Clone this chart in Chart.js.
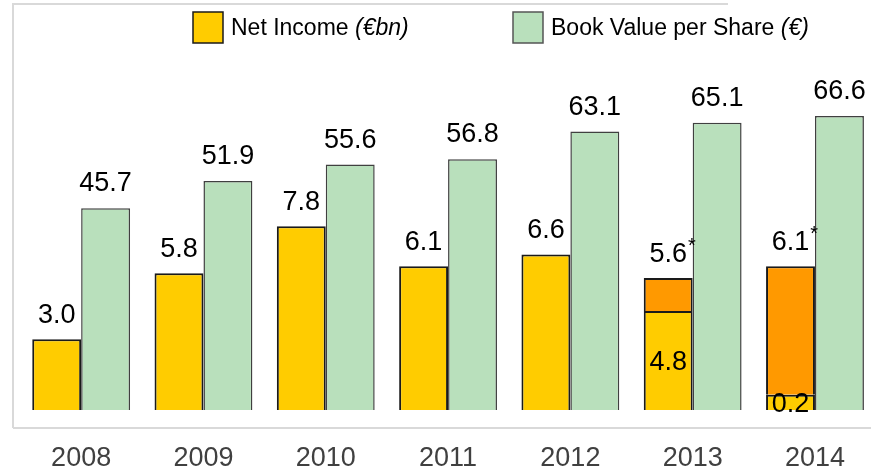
<!DOCTYPE html>
<html>
<head>
<meta charset="utf-8">
<script src="https://cdn.jsdelivr.net/npm/chart.js@4.4.1/dist/chart.umd.min.js"></script>
<style>
	html, body { margin: 0; padding: 0; background: #fff; overflow: hidden; }
	#wrap { width: 871px; height: 471px; overflow: hidden; }
</style>
</head>
<body>
<div id="wrap"><canvas id="chart" width="880" height="507"></canvas></div>
<script>
const years = ["2008", "2009", "2010", "2011", "2012", "2013", "2014"];
// bar heights as drawn (yellow part, orange part on top)
const net_income = [3.0, 5.8, 7.8, 6.1, 6.6, 4.2, 0.65];
const net_income_extra = [null, null, null, null, null, 1.4, 5.45];
const book_value = [45.7, 51.9, 55.6, 56.8, 63.1, 65.1, 66.6];
// printed labels
const net_income_labels = ["3.0", "5.8", "7.8", "6.1", "6.6", "5.6", "6.1"];
const net_income_star = [false, false, false, false, false, true, true];
const net_income_inner = [null, null, null, null, null, "4.8", "0.2"];
const book_value_labels = ["45.7", "51.9", "55.6", "56.8", "63.1", "65.1", "66.6"];

const FONT = "'Liberation Sans Narrow', 'Liberation Sans', Arial, sans-serif";

const frame_plugin = {
	id: "frame",
	beforeDraw(chart) {
		const ctx = chart.ctx;
		ctx.save();
		ctx.strokeStyle = "#d9d9d9";
		ctx.lineWidth = 2;
		ctx.beginPath();
		ctx.moveTo(13, 428);
		ctx.lineTo(13, 4);
		ctx.lineTo(728, 4);
		ctx.moveTo(13, 428);
		ctx.lineTo(880, 428);
		ctx.stroke();
		ctx.restore();
	},
};

const legend_plugin = {
	id: "customLegend",
	afterDraw(chart) {
		const ctx = chart.ctx;
		const items = [
			{ x: 193, color: "#FFCC00", border: "#1a1a1a", text: "Net Income ", italic: "(€bn)" },
			{ x: 513, color: "#B9E0BC", border: "#555555", text: "Book Value per Share ", italic: "(€)" },
		];
		ctx.save();
		ctx.textBaseline = "middle";
		ctx.textAlign = "left";
		for (const it of items) {
			ctx.fillStyle = it.color;
			ctx.fillRect(it.x, 12, 30, 31);
			ctx.strokeStyle = it.border;
			ctx.lineWidth = 1.5;
			ctx.strokeRect(it.x, 12, 30, 31);
			ctx.fillStyle = "#000";
			ctx.font = "23px " + FONT;
			ctx.fillText(it.text, it.x + 38, 29);
			const w = ctx.measureText(it.text).width;
			ctx.font = "italic 23px " + FONT;
			ctx.fillText(it.italic, it.x + 38 + w, 29);
		}
		ctx.restore();
	},
};

const value_plugin = {
	id: "values",
	afterDatasetsDraw(chart) {
		const ctx = chart.ctx;
		const yellow = chart.getDatasetMeta(0).data;
		const orange = chart.getDatasetMeta(1).data;
		const green = chart.getDatasetMeta(2).data;
		ctx.save();
		ctx.fillStyle = "#000";
		ctx.textAlign = "center";
		ctx.font = "27px " + FONT;
		for (let i = 0; i < years.length; i++) {
			// net income total above the stack
			let top = yellow[i].y;
			if (net_income_extra[i] !== null) top = orange[i].y;
			ctx.textBaseline = "alphabetic";
			ctx.fillText(net_income_labels[i], yellow[i].x, top - 16);
			if (net_income_star[i]) {
				const w = ctx.measureText(net_income_labels[i]).width;
				ctx.font = "20px " + FONT;
				ctx.textAlign = "left";
				ctx.fillText("*", yellow[i].x + w / 2 + 1, top - 26);
				ctx.font = "27px " + FONT;
				ctx.textAlign = "center";
			}
			if (net_income_inner[i]) {
				ctx.textBaseline = "middle";
				const bar = yellow[i];
				ctx.fillText(net_income_inner[i], bar.x, (bar.y + bar.base) / 2 + 2);
			}
			ctx.textBaseline = "alphabetic";
			ctx.fillText(book_value_labels[i], green[i].x, green[i].y - 17);
		}
		ctx.restore();
	},
};

new Chart(document.getElementById("chart").getContext("2d"), {
	type: "bar",
	data: {
		labels: years,
		datasets: [
			{
				label: "Net Income (€bn)",
				data: net_income,
				backgroundColor: "#FFCC00",
				borderColor: "#1a1a1a",
				borderWidth: 2,
				stack: "ni",
				yAxisID: "y",
			},
			{
				label: "Net Income extra",
				data: net_income_extra,
				backgroundColor: "#FF9900",
				borderColor: "#1a1a1a",
				borderWidth: 2,
				stack: "ni",
				yAxisID: "y",
			},
			{
				label: "Book Value per Share (€)",
				data: book_value,
				backgroundColor: "#B9E0BC",
				borderColor: "#404040",
				borderWidth: 1.5,
				stack: "bv",
				yAxisID: "y2",
			},
		],
	},
	options: {
		responsive: false,
		animation: false,
		layout: { padding: { left: 20, right: 0, top: 60, bottom: 0 } },
		datasets: { bar: { categoryPercentage: 0.8, barPercentage: 1.0 } },
		scales: {
			x: {
				grid: { display: false, drawTicks: false },
				border: { display: false },
				ticks: {
					color: "#404040",
					font: { family: FONT, size: 27, lineHeight: 1 },
					padding: 35,
				},
			},
			y: { display: false, stacked: true, min: 0, max: 14.85 },
			y2: { display: false, stacked: true, min: 0, max: 79.3 },
		},
		plugins: {
			legend: { display: false },
			tooltip: { enabled: false },
		},
	},
	plugins: [frame_plugin, legend_plugin, value_plugin],
});
</script>
</body>
</html>
